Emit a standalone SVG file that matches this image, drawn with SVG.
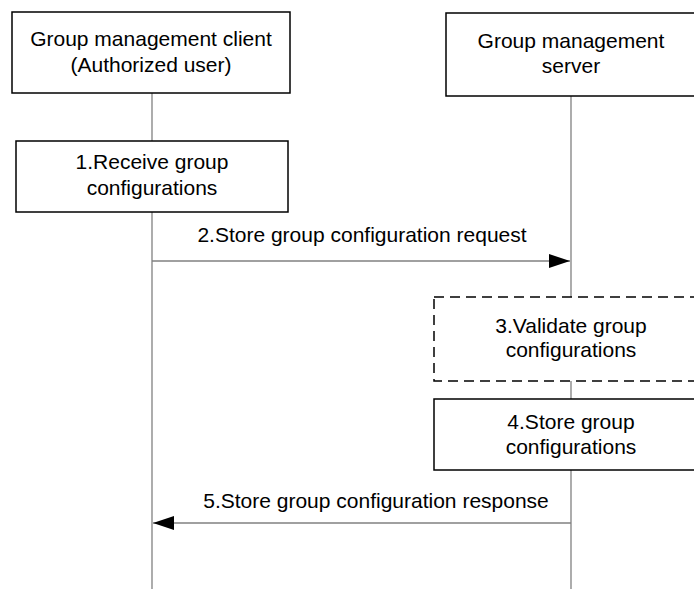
<svg xmlns="http://www.w3.org/2000/svg" width="694" height="589" viewBox="0 0 694 589">
<defs>
<style>
text{font-family:"Liberation Sans",Arial,sans-serif;font-size:21px;fill:#000;text-anchor:middle}
.box{fill:#fff;stroke:#000;stroke-width:1.5}
.dash{fill:#fff;stroke:#000;stroke-width:1.5;stroke-dasharray:10,6}
.life{stroke:#808080;stroke-width:1.3;fill:none}
.msg{stroke:#808080;stroke-width:1.3;fill:none}
</style>
<marker id="ah" markerUnits="userSpaceOnUse" markerWidth="22" markerHeight="14" refX="21" refY="7" orient="auto">
<path d="M0,0 L21,7 L0,14 Z" fill="#000"/>
</marker>
</defs>
<rect width="694" height="589" fill="#fff"/>
<g id="connectors">
<line class="life" x1="152" y1="93" x2="152" y2="589"/>
<line class="life" x1="571" y1="96" x2="571" y2="589"/>
<line class="msg" x1="152" y1="261" x2="570" y2="261" marker-end="url(#ah)"/>
<line class="msg" x1="571" y1="523" x2="153" y2="523" marker-end="url(#ah)"/>
</g>
<g id="client">
<rect class="box" x="12" y="12" width="278" height="81"/>
<text x="151" y="46">Group management client</text>
<text x="151" y="72">(Authorized user)</text>
</g>
<g id="server">
<rect class="box" x="446" y="13" width="250" height="83"/>
<text x="571" y="48">Group management</text>
<text x="571" y="73">server</text>
</g>
<g id="step1">
<rect class="box" x="16" y="141" width="272" height="71"/>
<text x="152" y="169">1.Receive group</text>
<text x="152" y="195">configurations</text>
</g>
<g id="label2">
<text x="362" y="242">2.Store group configuration request</text>
</g>
<g id="step3">
<rect class="dash" x="434" y="297" width="274" height="84"/>
<text x="571" y="333">3.Validate group</text>
<text x="571" y="357">configurations</text>
</g>
<g id="step4">
<rect class="box" x="434" y="399" width="274" height="71"/>
<text x="571" y="429">4.Store group</text>
<text x="571" y="454">configurations</text>
</g>
<g id="label5">
<text x="376" y="508">5.Store group configuration response</text>
</g>
</svg>
